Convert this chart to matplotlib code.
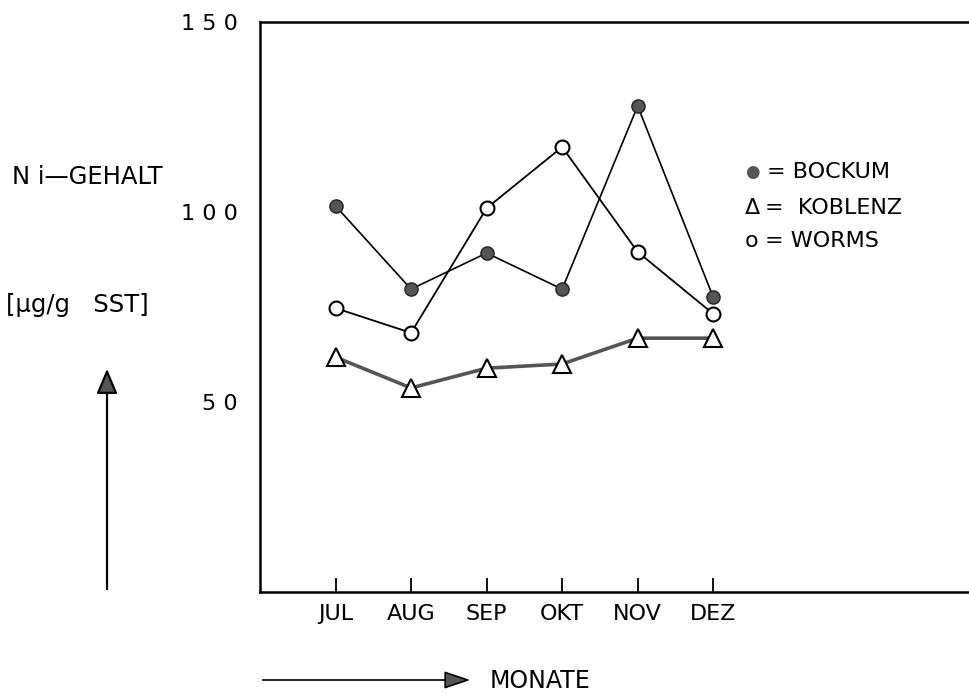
import matplotlib
matplotlib.use("Agg")
import matplotlib.pyplot as plt
from matplotlib.patches import FancyArrowPatch

months = ["JUL", "AUG", "SEP", "OKT", "NOV", "DEZ"]
bockum = [101.6, 79.7, 89.2, 79.7, 127.9, 77.6]
koblenz = [61.8, 53.7, 58.9, 60.0, 66.8, 66.8]
worms = [74.7, 68.2, 101.0, 117.1, 89.5, 73.2]
yticks = [50, 100, 150]
ytick_labels = ["5 0", "1 0 0", "1 5 0"]

plt.rcParams['font.family'] = ['DejaVu Sans']
FS = 16
W, H = 970, 697
fig = plt.figure(figsize=(W / 100, H / 100), dpi=100)
ax = fig.add_axes([260 / W, 105 / H, 710 / W, 570 / H])

x = list(range(1, len(months) + 1))
ax.plot(x, bockum, color='black', lw=1.2, marker='o', ms=9.5,
        mfc='#555555', mec='#222222', mew=1.0, zorder=3)
ax.plot(x, worms, color='black', lw=1.3, marker='o', ms=10,
        mfc='white', mec='black', mew=1.5, zorder=3)
ax.plot(x, koblenz, color='#555555', lw=2.6, marker='^', ms=13,
        mfc='white', mec='black', mew=1.5, zorder=3)

ax.set_xlim(0, 9.4)
ax.set_ylim(0, 150)
ax.set_xticks(x)
ax.set_xticklabels(months, fontsize=FS)
ax.set_yticks(yticks)
ax.set_yticklabels(ytick_labels, fontsize=FS)
ax.tick_params(axis='x', direction='in', length=10, width=1.3, pad=9)
ax.tick_params(axis='y', length=0, pad=16)
ax.spines['right'].set_visible(False)
for s in ['left', 'top', 'bottom']:
    ax.spines[s].set_linewidth(1.8)


def fy(py):
    return 1 - py / H


# legend as text
fig.text(752 / W, fy(172), "●", fontsize=12, color='#555555', ha='center', va='center')
fig.text(767 / W, fy(172), "= BOCKUM", fontsize=FS, ha='left', va='center')
fig.text(752 / W, fy(208), "Δ", fontsize=FS, ha='center', va='center')
fig.text(765 / W, fy(208), "=  KOBLENZ", fontsize=FS, ha='left', va='center')
fig.text(752 / W, fy(241), "o", fontsize=FS, ha='center', va='center')
fig.text(765 / W, fy(241), "= WORMS", fontsize=FS, ha='left', va='center')

# y-axis label
fig.text(12 / W, fy(177), "N i\u2014GEHALT", fontsize=17.5, ha='left', va='center')
fig.text(6 / W, fy(305), "[µg/g   SST]", fontsize=17.5, ha='left', va='center')
fig.add_artist(FancyArrowPatch(
    (107 / W, fy(592)), (107 / W, fy(366)), transform=fig.transFigure,
    arrowstyle='-|>,head_length=0.9,head_width=0.38', mutation_scale=17,
    color='black', fc='#555555', lw=1.6))

# x-axis label
fig.add_artist(FancyArrowPatch(
    (260 / W, fy(680)), (473 / W, fy(680)), transform=fig.transFigure,
    arrowstyle='-|>,head_length=0.95,head_width=0.32', mutation_scale=17,
    color='black', fc='#555555', lw=1.2))
fig.text(490 / W, fy(681), "MONATE", fontsize=FS + 1, ha='left', va='center')

fig.savefig("out.png", dpi=100)
